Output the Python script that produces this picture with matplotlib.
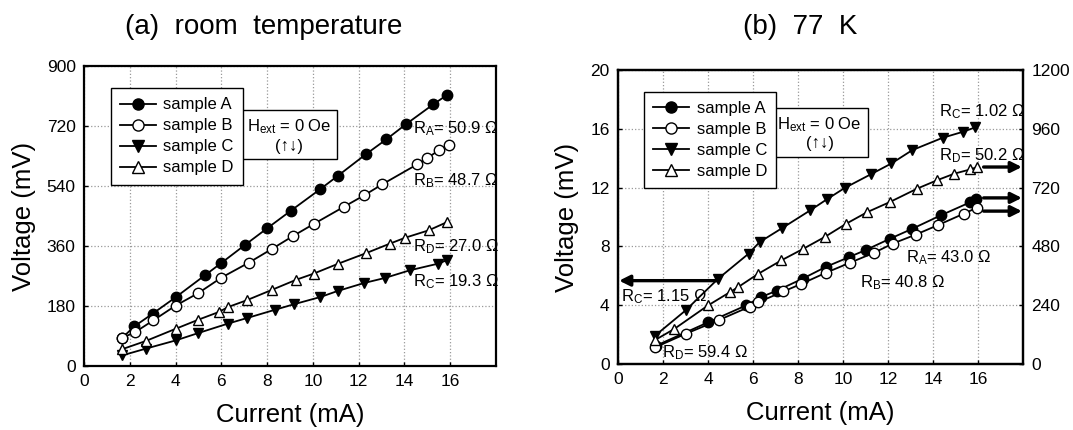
import matplotlib
matplotlib.use("Agg")
import matplotlib.pyplot as plt
from matplotlib.lines import Line2D

plt.rcParams['font.family'] = ['Liberation Sans', 'DejaVu Sans']
plt.rcParams['mathtext.fontset'] = 'custom'
plt.rcParams['mathtext.rm'] = 'Liberation Sans'
plt.rcParams['mathtext.it'] = 'Liberation Sans:italic'
plt.rcParams['mathtext.bf'] = 'Liberation Sans:bold'

# ---------------- data: (a) room temperature (mV) ----------------
a_A_I = [1.68, 2.2, 3.0, 4.02, 5.28, 5.98, 7.03, 8.0, 9.04, 10.33, 11.08, 12.31, 13.21, 14.08, 15.26, 15.86]
a_A_V = [85, 119, 157, 207, 272, 308, 363, 413, 466, 531, 570, 635, 680, 726, 785, 813]
a_B_I = [1.65, 2.22, 3.03, 4.0, 5.0, 6.0, 7.2, 8.23, 9.11, 10.06, 11.34, 12.24, 13.03, 14.56, 15.0, 15.5, 15.95]
a_B_V = [84, 101, 137, 181, 219, 265, 310, 352, 389, 427, 477, 512, 545, 605, 624, 647, 664]
a_C_I = [1.68, 2.7, 4.02, 5.0, 6.28, 7.13, 8.36, 9.16, 10.33, 11.08, 12.24, 13.14, 14.23, 15.47, 15.84]
a_C_V = [32, 52, 77, 99, 127, 144, 169, 185, 207, 225, 249, 264, 287, 307, 317]
a_D_I = [1.65, 2.7, 4.02, 5.0, 5.89, 6.3, 7.1, 8.23, 9.28, 10.03, 11.11, 12.34, 13.36, 14.04, 15.06, 15.87]
a_D_V = [50, 75, 112, 139, 162, 177, 197, 229, 259, 277, 307, 339, 367, 385, 407, 432]

# ---------------- data: (b) 77 K ----------------
# sample C on left axis (mV, 0-20); samples A, B, D on right axis (0-1200)
b_C_I = [1.65, 3.0, 4.45, 5.8, 6.3, 7.3, 8.54, 9.28, 10.08, 11.23, 12.15, 13.08, 14.43, 15.34, 15.88]
b_C_V = [1.93, 3.64, 5.8, 7.5, 8.3, 9.25, 10.45, 11.2, 11.98, 12.9, 13.64, 14.55, 15.39, 15.8, 16.1]
b_A_I = [1.7, 4.0, 5.69, 6.35, 7.08, 8.2, 9.23, 10.26, 11.03, 12.08, 13.08, 14.35, 15.65, 15.9]
b_A_V = [75, 170, 239, 273, 300, 348, 396, 436, 466, 511, 552, 607, 660, 675]
b_B_I = [1.65, 3.0, 4.5, 5.85, 6.23, 7.35, 8.15, 9.23, 10.3, 11.38, 12.2, 13.23, 14.2, 15.38, 15.95]
b_B_V = [68, 123, 180, 234, 252, 296, 327, 372, 413, 454, 491, 528, 566, 614, 638]
b_D_I = [1.65, 2.5, 4.0, 4.97, 5.34, 6.23, 7.26, 8.23, 9.18, 10.15, 11.08, 12.08, 13.3, 14.18, 14.95, 15.65, 15.97]
b_D_V = [98, 143, 239, 293, 314, 368, 423, 470, 518, 573, 620, 661, 716, 750, 777, 794, 804]

labels = ['sample A', 'sample B', 'sample C', 'sample D']
styles = [dict(marker='o', mfc='black'), dict(marker='o', mfc='white'),
          dict(marker='v', mfc='black'), dict(marker='^', mfc='white')]

x_ticks = [0, 2, 4, 6, 8, 10, 12, 14, 16]
a_y_ticks = [0, 180, 360, 540, 720, 900]
b_y_ticks = [0, 4, 8, 12, 16, 20]
b_y2_ticks = [0, 240, 480, 720, 960, 1200]

a_ann = [('R$_{\\mathrm{A}}$= 50.9 Ω', 14.38, 712), ('R$_{\\mathrm{B}}$= 48.7 Ω', 14.38, 557),
         ('R$_{\\mathrm{D}}$= 27.0 Ω', 14.38, 359), ('R$_{\\mathrm{C}}$= 19.3 Ω', 14.38, 252)]
b_ann = [('R$_{\\mathrm{C}}$= 1.02 Ω', 14.26, 17.15), ('R$_{\\mathrm{D}}$= 50.2 Ω', 14.26, 14.2),
         ('R$_{\\mathrm{A}}$= 43.0 Ω', 12.8, 7.26), ('R$_{\\mathrm{B}}$= 40.8 Ω', 10.74, 5.55),
         ('R$_{\\mathrm{C}}$= 1.15 Ω', 0.15, 4.57), ('R$_{\\mathrm{D}}$= 59.4 Ω', 1.97, 0.77)]

W, H = 1073, 430
fig = plt.figure(figsize=(W / 100, H / 100), dpi=100)

def px_axes(l, r, t, b):
    return fig.add_axes([l / W, 1 - b / H, (r - l) / W, (b - t) / H])

LW = 1.3
MS = 7.5

def draw(ax, x, y, st):
    ax.plot(x, y, color='black', lw=LW, ms=MS, mec='black', mew=1.0, zorder=3, **st)

def style_axes(ax):
    for s in ax.spines.values():
        s.set_linewidth(1.6)
    ax.tick_params(direction='in', length=3, width=1, labelsize=12.5, pad=6)

def legend_and_box(ax, hext_xy):
    handles = [Line2D([], [], color='black', lw=LW, ms=MS + 0.5, mec='black', mew=1.0, **st) for st in styles]
    lg = ax.legend(handles, labels, loc='upper left', bbox_to_anchor=(0.065, 0.926), fontsize=12,
                   frameon=True, fancybox=False, edgecolor='black', framealpha=1,
                   handlelength=2.15, handletextpad=0.45, labelspacing=0.36, borderpad=0.55,
                   borderaxespad=0)
    lg.get_frame().set_linewidth(1.0)
    lg.set_zorder(7)
    ax.text(hext_xy[0], hext_xy[1], 'H$_{\\mathrm{ext}}$ = 0 Oe\n(↑↓)', transform=ax.transAxes,
            ha='center', va='center', multialignment='center', fontsize=12, zorder=6,
            bbox=dict(boxstyle='square,pad=0.35', fc='white', ec='black', lw=1.0))

# ---------------- panel (a) ----------------
ax1 = px_axes(84, 496, 66, 366)
ax1.set_xlim(0, 18)
ax1.set_ylim(0, 900)
ax1.set_xticks(x_ticks)
ax1.set_yticks(a_y_ticks)
ax1.grid(True, ls=':', color='#999999', lw=0.9)
ax1.set_axisbelow(True)
for (x, y), st in zip([(a_A_I, a_A_V), (a_B_I, a_B_V), (a_C_I, a_C_V), (a_D_I, a_D_V)], styles):
    draw(ax1, x, y, st)
for t, x, y in a_ann:
    ax1.text(x, y, t, fontsize=12, ha='left', va='center', zorder=4)
style_axes(ax1)
ax1.set_xlabel('Current (mA)', fontsize=18.5, labelpad=10)
ax1.set_ylabel('Voltage (mV)', fontsize=18.5, labelpad=8)
legend_and_box(ax1, (0.497, 0.768))

# ---------------- panel (b) ----------------
ax2 = px_axes(618, 1023, 70, 364)
ax2.set_xlim(0, 18)
ax2.set_ylim(0, 20)
ax2.set_xticks(x_ticks)
ax2.set_yticks(b_y_ticks)
ax2.grid(True, ls=':', color='#999999', lw=0.9)
ax2.set_axisbelow(True)
draw(ax2, b_C_I, b_C_V, styles[2])
ax3 = ax2.twinx()
ax3.set_ylim(0, 1200)
ax3.set_yticks(b_y2_ticks)
draw(ax3, b_A_I, b_A_V, styles[0])
draw(ax3, b_B_I, b_B_V, styles[1])
draw(ax3, b_D_I, b_D_V, styles[3])
for t, x, y in b_ann:
    ax2.text(x, y, t, fontsize=12, ha='left', va='center', zorder=4)
style_axes(ax2)
style_axes(ax3)
ax2.set_xlabel('Current (mA)', fontsize=18.5, labelpad=10)
ax2.set_ylabel('Voltage (mV)', fontsize=18.5, labelpad=8)
legend_and_box(ax3, (0.498, 0.785))

arrow = dict(arrowstyle='-|>', lw=2.4, color='black', mutation_scale=16, shrinkA=0, shrinkB=0)
ax2.annotate('', xy=(0.05, 5.67), xytext=(4.4, 5.67), arrowprops=arrow, zorder=6)
for yv in [b_D_V[-1], b_A_V[-1] + 3, b_B_V[-1] - 14]:
    ax3.annotate('', xy=(17.95, yv), xytext=(16.25, yv), arrowprops=arrow, zorder=6, annotation_clip=False)

fig.text(264 / W, 1 - 27 / H, '(a)  room  temperature', fontsize=20, ha='center', va='center')
fig.text(800 / W, 1 - 27 / H, '(b)  77  K', fontsize=20, ha='center', va='center')

fig.savefig('out.png', dpi=100)
